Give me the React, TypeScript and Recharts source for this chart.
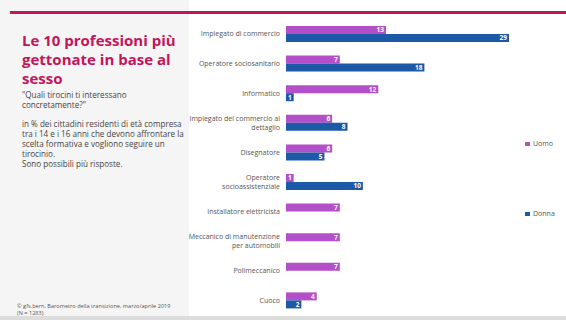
import React from 'react';
import { BarChart, Bar, XAxis, YAxis, LabelList } from 'recharts';

const categories = [
  'Impiegato di commercio',
  'Operatore sociosanitario',
  'Informatico',
  'Impiegato del commercio al\ndettaglio',
  'Disegnatore',
  'Operatore\nsocioassistenziale',
  'Installatore elettricista',
  'Meccanico di manutenzione\nper automobili',
  'Polimeccanico',
  'Cuoco',
];

const uomo = [13, 7, 12, 6, 6, 1, 7, 7, 7, 4];
const donna: (number | null)[] = [29, 18, 1, 8, 5, 10, null, null, null, 2];

const data = categories.map((name, i) => ({ name, uomo: uomo[i], donna: donna[i] }));

const PURPLE = '#b34fc9';
const BLUE = '#1c5aa8';
const TITLE = '#c4145a';
const FONT = '"Open Sans", sans-serif';

const CategoryTick = ({ x, y, payload }: any) => {
  const lines = String(payload.value).split('\n');
  const lh = 9;
  const start = -((lines.length - 1) * lh) / 2;
  return (
    <text x={x} y={y} textAnchor="end" fontSize={7} fill="#555" fontFamily={FONT}>
      {lines.map((l, i) => (
        <tspan key={i} x={x} dy={i === 0 ? start + 2.5 : lh}>
          {l}
        </tspan>
      ))}
    </text>
  );
};

export default function App() {
  return (
    <div
      style={{
        position: 'absolute',
        top: 0,
        left: 0,
        width: 566,
        height: 320,
        background: '#fff',
        fontFamily: FONT,
        overflow: 'hidden',
      }}
    >
      {/* left panel */}
      <div style={{ position: 'absolute', left: 0, top: 0, width: 189, height: 316, background: '#f5f5f5' }} />
      <div style={{ position: 'absolute', left: 0, top: 316, width: 566, height: 4, background: '#dcdcdc' }} />
      <div style={{ position: 'absolute', left: 10, top: 11, width: 556, height: 3, background: TITLE }} />

      <div
        style={{
          position: 'absolute',
          left: 22,
          top: 31,
          width: 165,
          fontSize: 15,
          lineHeight: '19px',
          fontWeight: 700,
          color: TITLE,
        }}
      >
        Le 10 professioni più gettonate in base al sesso
      </div>
      <div style={{ position: 'absolute', left: 22, top: 90, width: 150, fontSize: 8.1, lineHeight: '10px', color: '#444' }}>
        "Quali tirocini ti interessano concretamente?"
      </div>
      <div style={{ position: 'absolute', left: 22, top: 119, width: 166, fontSize: 8.1, lineHeight: '10px', color: '#444' }}>
        in % dei cittadini residenti di età compresa tra i 14 e i 16 anni che devono affrontare la scelta formativa e vogliono seguire un tirocinio.
        <br />
        Sono possibili più risposte.
      </div>
      <div style={{ position: 'absolute', left: 17, top: 303, width: 160, fontSize: 5.6, lineHeight: '7px', color: '#555' }}>
        © gfs.bern, Barometro della transizione, marzo/aprile 2019 (N = 1283)
      </div>

      <div style={{ position: 'absolute', left: 0, top: 0 }}>
        <BarChart
          width={566}
          height={320}
          layout="vertical"
          data={data}
          margin={{ top: 19, right: 57, left: 186, bottom: 5 }}
          barSize={8}
          barGap={0}
        >
          <XAxis type="number" domain={[0, 29]} hide />
          <YAxis
            type="category"
            dataKey="name"
            width={100}
            axisLine={false}
            tickLine={false}
            tickSize={0}
            tickMargin={6}
            interval={0}
            tick={<CategoryTick />}
          />
          <Bar dataKey="uomo" fill={PURPLE} isAnimationActive={false}>
            <LabelList dataKey="uomo" position="insideRight" fill="#fff" fontSize={6.5} fontWeight={700} offset={2} />
          </Bar>
          <Bar dataKey="donna" fill={BLUE} isAnimationActive={false}>
            <LabelList dataKey="donna" position="insideRight" fill="#fff" fontSize={6.5} fontWeight={700} offset={2} />
          </Bar>
        </BarChart>
      </div>

      {/* legend */}
      <div style={{ position: 'absolute', left: 525, top: 139, display: 'flex', alignItems: 'center', fontSize: 7, color: '#555' }}>
        <span style={{ display: 'inline-block', width: 5, height: 4, background: PURPLE, marginRight: 3 }} />
        Uomo
      </div>
      <div style={{ position: 'absolute', left: 525, top: 209, display: 'flex', alignItems: 'center', fontSize: 7, color: '#555' }}>
        <span style={{ display: 'inline-block', width: 5, height: 4, background: BLUE, marginRight: 3 }} />
        Donna
      </div>
    </div>
  );
}
